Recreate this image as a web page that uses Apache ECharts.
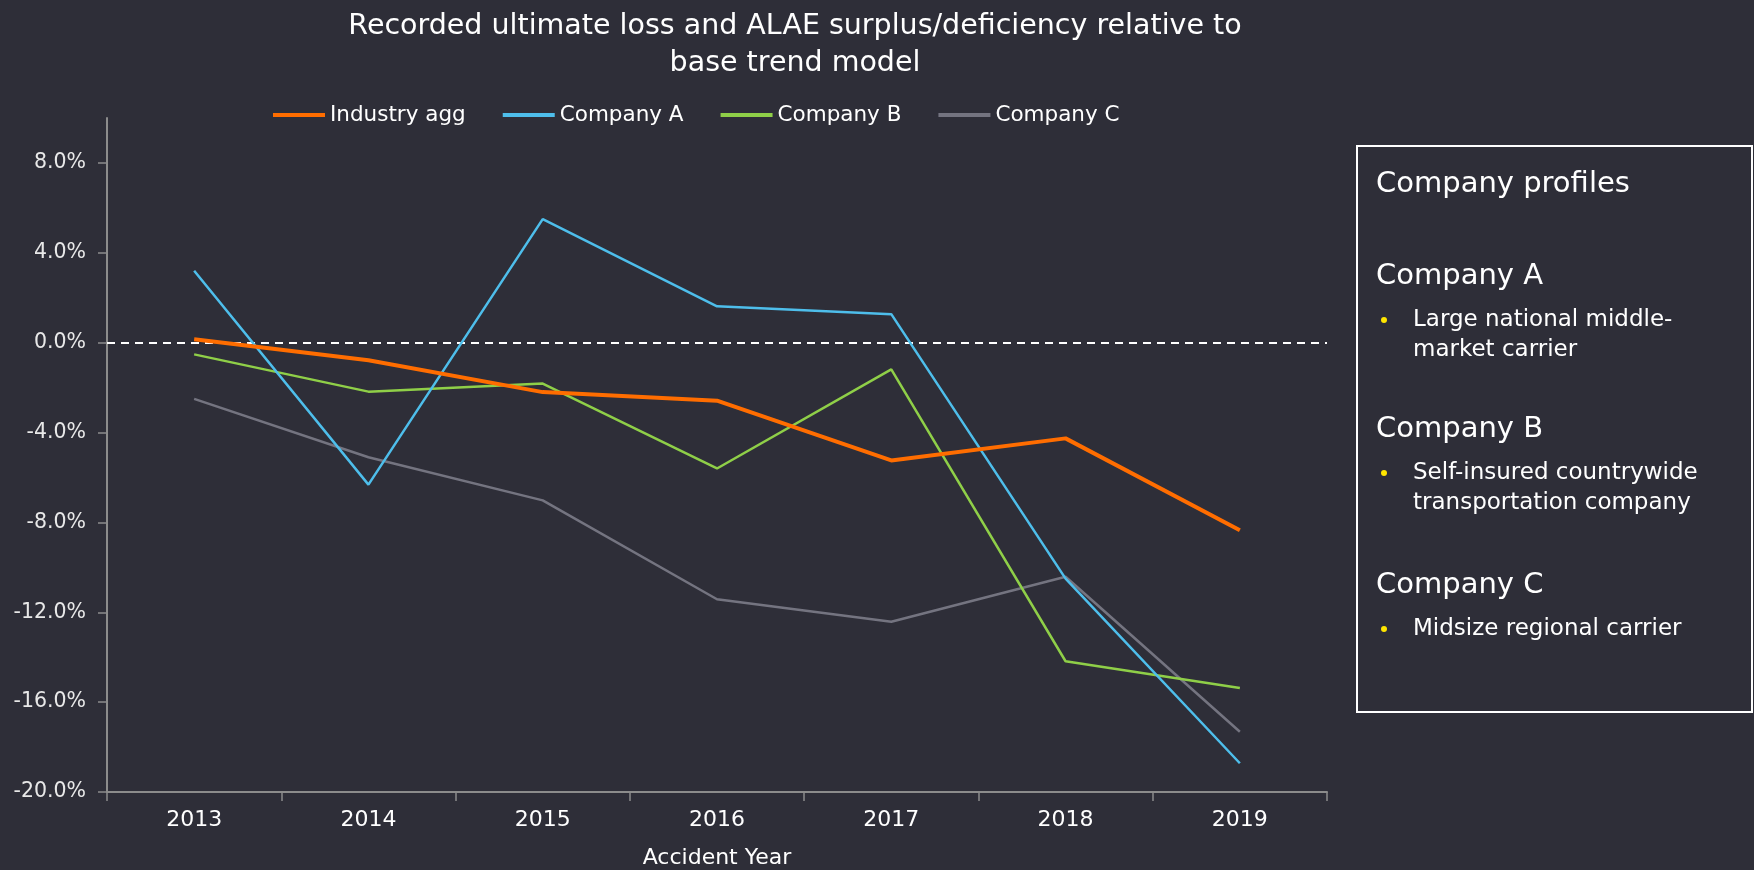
<!DOCTYPE html>
<html>
<head>
<meta charset="utf-8">
<script src="https://cdn.jsdelivr.net/npm/echarts@6/dist/echarts.min.js"></script>
<style>
html,body{margin:0;padding:0;background:#2e2e38;}
#c{width:1754px;height:870px;}
</style>
</head>
<body>
<div id="c"></div>
<script>
var years = ['2013','2014','2015','2016','2017','2018','2019'];
var seriesNames = ['Industry agg','Company A','Company B','Company C'];
var industryAgg = [0.15, -0.78, -2.2, -2.58, -5.24, -4.26, -8.35];
var companyA = [3.2, -6.32, 5.5, 1.62, 1.27, -10.5, -18.72];
var companyB = [-0.52, -2.18, -1.82, -5.6, -1.19, -14.18, -15.37];
var companyC = [-2.5, -5.1, -7.02, -11.42, -12.42, -10.42, -17.32];
var yTicks = [-20, -16, -12, -8, -4, 0, 4, 8];
var titleText = 'Recorded ultimate loss and ALAE surplus/deficiency relative to\nbase trend model';
var xAxisName = 'Accident Year';
var boxHeading = 'Company profiles';
var profileNames = ['Company A', 'Company B', 'Company C'];
var profileLines = [
  ['Large national middle-', 'market carrier'],
  ['Self-insured countrywide', 'transportation company'],
  ['Midsize regional carrier']
];

var FONT = '"DejaVu Sans", "Noto Sans", sans-serif';
var colors = ['#ff6d00', '#4ebeeb', '#8fcf48', '#747480'];
var widths = [4, 2.5, 2.5, 2.5];
var allData = [industryAgg, companyA, companyB, companyC];

var chart = echarts.init(document.getElementById('c'));

var series = seriesNames.map(function (n, i) {
  var s = {
    name: n,
    type: 'line',
    data: allData[i],
    symbol: 'none',
    z: 10 - i,
    lineStyle: { color: colors[i], width: widths[i] },
    itemStyle: { color: colors[i] }
  };
  if (i === 0) {
    s.markLine = {
      silent: true,
      symbol: 'none',
      label: { show: false },
      lineStyle: { color: '#ffffff', type: [8, 6], width: 2 },
      data: [{ yAxis: 0 }],
      z: 1
    };
  }
  return s;
});

var g = [];
g.push({
  type: 'rect',
  shape: { x: 1357, y: 146, width: 395, height: 566 },
  style: { fill: 'none', stroke: '#ffffff', lineWidth: 2 }
});
g.push({
  type: 'text', x: 1376, y: 184,
  style: { text: boxHeading, fill: '#ffffff', font: '29px ' + FONT, textVerticalAlign: 'middle' }
});
var headY = [276, 429, 585];
profileNames.forEach(function (nm, k) {
  g.push({
    type: 'text', x: 1376, y: headY[k],
    style: { text: nm, fill: '#ffffff', font: '29px ' + FONT, textVerticalAlign: 'middle' }
  });
  g.push({
    type: 'circle', shape: { cx: 1384, cy: headY[k] + 44, r: 3 },
    style: { fill: '#ffe600' }
  });
  profileLines[k].forEach(function (ln, j) {
    g.push({
      type: 'text', x: 1413, y: headY[k] + 44 + j * 30,
      style: { text: ln, fill: '#ffffff', font: '23px ' + FONT, textVerticalAlign: 'middle' }
    });
  });
});
g.push({
  type: 'text', x: 795, y: 8,
  style: { text: titleText, fill: '#ffffff', font: '28.5px ' + FONT, textAlign: 'center', lineHeight: 37 }
});

chart.setOption({
  backgroundColor: '#2e2e38',
  animation: false,
  color: colors,
  legend: {
    left: 273,
    top: 104,
    padding: 0,
    itemWidth: 52,
    itemHeight: 4,
    itemGap: 37,
    icon: 'rect',
    textStyle: { color: '#ffffff', fontSize: 21.5, fontFamily: FONT },
    data: seriesNames
  },
  grid: { left: 107, right: 427, top: 118, bottom: 78, containLabel: false, outerBoundsMode: 'none' },
  xAxis: {
    type: 'category',
    data: years,
    boundaryGap: true,
    name: xAxisName,
    nameLocation: 'middle',
    nameGap: 55,
    nameTextStyle: { color: '#ffffff', fontSize: 22, fontFamily: FONT },
    axisLine: { onZero: false, lineStyle: { color: '#8c8c8c', width: 2 } },
    axisTick: { show: true, length: 9, lineStyle: { color: '#8c8c8c', width: 1.5 } },
    axisLabel: { color: '#ffffff', fontSize: 22, fontFamily: FONT, margin: 17 }
  },
  yAxis: {
    type: 'value',
    min: -20,
    max: 10,
    interval: 4,
    axisLine: { show: true, lineStyle: { color: '#8c8c8c', width: 2 } },
    axisTick: { show: true, length: 9, lineStyle: { color: '#8c8c8c', width: 1.5 }, customValues: yTicks },
    splitLine: { show: false },
    axisLabel: {
      color: '#e8e8e8', fontSize: 20.5, fontFamily: FONT, margin: 21,
      customValues: yTicks,
      formatter: function (v) { return v.toFixed(1) + '%'; }
    }
  },
  graphic: g,
  series: series
});
</script>
</body>
</html>
